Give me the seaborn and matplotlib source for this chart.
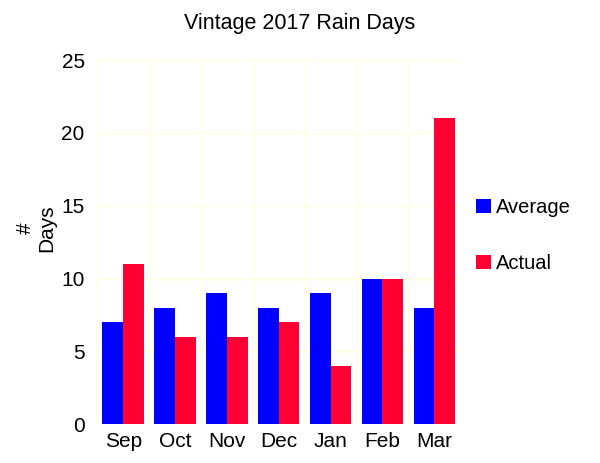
import matplotlib.pyplot as plt
import numpy as np
import pandas as pd
import seaborn as sns

months = ['Sep', 'Oct', 'Nov', 'Dec', 'Jan', 'Feb', 'Mar']
average = [7, 8, 9, 8, 9, 10, 8]
actual = [11, 6, 6, 7, 4, 10, 21]

df = pd.DataFrame({
    'month': months * 2,
    'days': average + actual,
    'kind': ['Average'] * len(months) + ['Actual'] * len(months),
})

sns.set_style('white')
plt.rcParams['font.family'] = ['Liberation Sans', 'DejaVu Sans']
plt.rcParams['text.color'] = 'black'
plt.rcParams['axes.labelcolor'] = 'black'

grid_col = '#FFFFE0'

fig = plt.figure(figsize=(6, 4.63), dpi=100)
ax = fig.add_axes([0.162, 0.084, 0.605, 0.786])

sns.barplot(data=df, x='month', y='days', hue='kind', order=months,
            palette={'Average': '#0000FF', 'Actual': '#FF0033'},
            width=0.8, saturation=1, ax=ax, legend=True,
            edgecolor='none', linewidth=0)

ax.set_xlim(-0.5, len(months) - 0.5)
ax.set_ylim(0, 25)
ax.set_yticks([0, 5, 10, 15, 20, 25])
ax.set_xticks(np.arange(-0.5, len(months), 1), minor=True)
ax.grid(False)
ax.grid(True, which='minor', axis='x', color=grid_col, lw=1)
ax.grid(True, which='major', axis='y', color=grid_col, lw=1)
ax.set_axisbelow(True)
ax.tick_params(axis='x', which='major', length=0, labelsize=15, pad=6,
               labelcolor='black')
ax.tick_params(axis='x', which='minor', length=5, color=grid_col, width=1)
ax.tick_params(axis='y', which='major', length=6, color=grid_col, width=1,
               labelsize=15, pad=3, labelcolor='black')
for s in ax.spines.values():
    s.set_visible(False)

ax.set_xlabel('')
ax.set_ylabel('#\nDays', fontsize=15)
ax.yaxis.set_label_coords(-0.112, 0.538)
fig.suptitle('Vintage 2017 Rain Days', fontsize=15.5, x=0.5, y=0.937,
             va='baseline')

handles, labels = ax.get_legend_handles_labels()
ax.legend_.remove()
fig.legend(handles, labels, loc='center left', bbox_to_anchor=(0.763, 0.491),
           frameon=False, fontsize=14.5, handlelength=0.75, handleheight=0.7,
           handletextpad=0.25, labelspacing=1.85)

fig.savefig('out.png', dpi=100)
